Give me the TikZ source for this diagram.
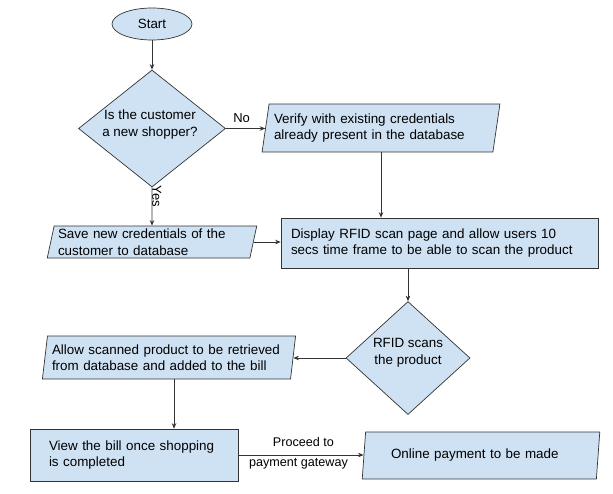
\documentclass[tikz,border=0pt]{standalone}
\usepackage{fontspec}
\setmainfont{Liberation Sans}
\usetikzlibrary{shapes.geometric,arrows.meta}
\definecolor{boxblue}{HTML}{CFE2F3}
\definecolor{edge}{HTML}{333333}
\tikzset{
  base/.style={draw=edge, fill=boxblue, line width=0.7pt, inner sep=0pt,
    font=\fontsize{13.4}{16.5}\selectfont},
  para/.style={base, trapezium, trapezium left angle=#1, trapezium right angle=180-#1,
    trapezium stretches=true},
  procbox/.style={base, rectangle},
  decide/.style={base, diamond, align=center},
  term/.style={base, ellipse},
  conn/.style={draw=edge, line width=0.7pt, -{Stealth[length=5.5pt,width=4.5pt]}},
  lab/.style={font=\fontsize{13}{15}\selectfont, inner sep=1pt},
  smalllab/.style={font=\fontsize{12.6}{15}\selectfont, inner sep=0pt},
}
\begin{document}
\begin{tikzpicture}[x=1pt,y=-1pt]
\useasboundingbox (0,0) rectangle (613,493);
\node[term, minimum width=80pt, minimum height=32pt] (start) at (152,24) {Start};
\node[decide, minimum width=147pt, minimum height=117pt] (q1) at (152,128.5) {};
\node[font=\fontsize{13.4}{16.5}\selectfont, align=center] (q1t) at (150,124.5) {Is the customer\\a new shopper?};
\node[para=77, minimum width=238pt, minimum height=48pt, text width=214pt, align=left] (verify) at (381,128)
  {Verify with existing credentials\\already present in the database};
\node[para=76, minimum width=210pt, minimum height=32pt, text width=188pt, align=left] (save) at (152,242)
  {Save new credentials of the\\customer to database};
\node[procbox, minimum width=317pt, minimum height=50pt, text width=297pt, align=left] (display) at (439.5,243)
  {Display RFID scan page and allow users 10\\secs time frame to be able to scan the product};
\node[decide, minimum width=124pt, minimum height=113pt] (q2) at (408,358) {};
\node[font=\fontsize{13.4}{16.5}\selectfont, align=center] (q2t) at (408,353) {RFID scans\\the product};
\node[para=79.5, minimum width=254pt, minimum height=43pt, text width=234pt, align=left] (allow) at (169,357.5)
  {Allow scanned product to be retrieved\\from database and added to the bill};
\node[procbox, minimum width=208pt, minimum height=52pt, text width=170pt, align=left] (view) at (134,455)
  {View the bill once shopping\\is completed};
\node[para=78, minimum width=238pt, minimum height=47pt, text width=180pt, align=left] (online) at (481,455.5)
  {Online payment to be made};

\draw[conn] (start) -- (q1.north);
\draw[conn] (q1.east) -- node[lab, above, pos=0.4, yshift=5pt] (no) {No} (q1.east -| verify.west);
\draw[conn] (q1.south) -- node[lab, pos=0.24, rotate=-90, anchor=south, yshift=-1pt] (yes) {Yes} (save.north);
\draw[conn] (verify.south) -- (verify.south |- display.north);
\draw[conn] (save.east) -- (save.east -| display.west);
\draw[conn] (q2.north |- display.south) -- (q2.north);
\draw[conn] (q2.west) -- (q2.west -| allow.east);
\draw[conn] ([xshift=5pt]allow.south) -- ([xshift=5pt]allow.south |- view.north);
\draw[conn] (view.east) -- node[smalllab, pos=0.52, yshift=13pt] (pt1) {Proceed to}
  node[smalllab, pos=0.48, yshift=-9pt] (pt2) {payment gateway} (view.east -| online.west);
\end{tikzpicture}
\end{document}
